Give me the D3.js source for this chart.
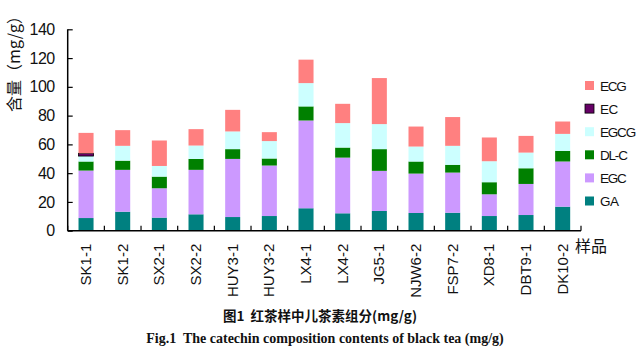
<!DOCTYPE html>
<html><head><meta charset="utf-8">
<script src="https://cdn.jsdelivr.net/npm/d3@7"></script>
<style>html,body{margin:0;padding:0;background:#fff;}svg{display:block;}text{white-space:pre;}</style>
</head><body>
<svg id="c" width="640" height="349"></svg>
<script>
const categories = ["SK1-1","SK1-2","SX2-1","SX2-2","HUY3-1","HUY3-2","LX4-1","LX4-2","JG5-1","NJW6-2","FSP7-2","XD8-1","DBT9-1","DK10-2"];
const GA   = [8.8,13.2,9.1,11.4,9.5,10.2,15.6,12.1,13.7,12.3,12.5,10.2,10.9,16.7];
const EGC  = [33.0,29.1,20.4,30.9,40.4,35.1,61.0,38.7,27.9,27.4,27.9,15.1,21.6,31.4];
const DLC  = [6.3,6.4,8.1,7.6,6.8,4.9,9.8,7.0,15.1,8.4,5.4,8.4,10.9,7.4];
const EGCG = [3.8,10.3,7.4,9.3,12.3,12.1,16.2,17.0,17.4,10.4,13.2,14.6,10.9,11.8];
const EC   = [1.9,0,0,0,0,0,0,0,0,0,0,0,0,0];
const ECG  = [14.2,10.9,17.7,11.4,15.0,6.2,16.3,13.4,32.0,13.9,20.0,16.5,11.6,8.6];
const seriesNames = ["GA","EGC","DL-C","EGCG","EC","ECG"];
const legendOrder = ["ECG","EC","EGCG","DL-C","EGC","GA"];
const yTicks = [0,20,40,60,80,100,120,140];

const colors = {"GA":"#008080","EGC":"#cc99ff","DL-C":"#008000","EGCG":"#ccffff","EC":"#660066","ECG":"#ff8080"};
const seriesVals = {"GA":GA,"EGC":EGC,"DL-C":DLC,"EGCG":EGCG,"EC":EC,"ECG":ECG};
const legendWidths = {"ECG":27,"EC":17,"EGCG":34,"DL-C":32,"EGC":27,"GA":17};

const rows = categories.map((c,i)=>{const r={cat:c}; seriesNames.forEach(s=>r[s]=seriesVals[s][i]); return r;});
const stack = d3.stack().keys(seriesNames)(rows);

const svg = d3.select("#c");
const x0 = 67.7, x1 = 581, yb = 230.7, yt = 29.3;
const x = d3.scaleBand().domain(categories).range([x0,x1]).paddingInner(0.59).paddingOuter(0.295);
const y = d3.scaleLinear().domain([0,140]).range([yb,yt]);

// bars
stack.forEach(layer=>{
  svg.append("g").selectAll("rect").data(layer).join("rect")
    .attr("x", d=>x(d.data.cat))
    .attr("width", x.bandwidth())
    .attr("y", d=>y(d[1]))
    .attr("height", d=>Math.max(0, y(d[0])-y(d[1])))
    .attr("fill", colors[layer.key])
    .attr("stroke", layer.key==="EC" ? "#000" : "none")
    .attr("stroke-width", layer.key==="EC" ? 0.8 : 0)
    .attr("display", d=> (d[1]-d[0])>0 ? null : "none");
});

// y axis
const yAxis = d3.axisLeft(y).tickValues(yTicks).tickSize(-5).tickPadding(13).tickFormat(d3.format("d"));
const gy = svg.append("g").attr("transform",`translate(${x0},0)`).call(yAxis);
gy.select(".domain").attr("stroke","#000").attr("stroke-width",1.5).attr("d",`M0,${yt}V${yb}`);
gy.selectAll(".tick line").attr("stroke","#000").attr("stroke-width",1.2);
gy.selectAll("text").attr("font-family","Liberation Sans, Arial, sans-serif").attr("font-size",16).attr("fill","#111").attr("letter-spacing","-0.5");

// x axis
const gx = svg.append("g").attr("transform",`translate(0,${yb})`);
gx.append("line").attr("x1",x0).attr("x2",x1).attr("y1",0).attr("y2",0).attr("stroke","#000").attr("stroke-width",1.5);
const step = x.step();
const bounds = d3.range(categories.length+1).map(i=>x0+i*step);
gx.selectAll("line.tk").data(bounds).join("line").attr("class","tk")
  .attr("x1",d=>d).attr("x2",d=>d).attr("y1",0).attr("y2",-5).attr("stroke","#000").attr("stroke-width",1.2);
gx.selectAll("text.lab").data(categories).join("text").attr("class","lab")
  .attr("transform",d=>`translate(${x(d)+x.bandwidth()/2+5},13) rotate(-90)`)
  .attr("text-anchor","end")
  .attr("font-family","Liberation Sans, Arial, sans-serif").attr("font-size",15).attr("fill","#111")
  .text(d=>d);

svg.append("text").attr("x",575).attr("y",252).attr("font-family","Noto Sans CJK SC").attr("font-size",16).attr("fill","#111").text("样品");

// y title
svg.append("text").attr("transform","translate(20,60) rotate(-90)").attr("text-anchor","middle")
  .attr("font-family","Noto Sans CJK SC").attr("font-size",16).attr("fill","#111").text("含量（mg/g）");

// legend
const lg = svg.append("g");
legendOrder.forEach((s,i)=>{
  const cy = 85.5 + i*23.1;
  lg.append("rect").attr("x",585).attr("y",cy-4.5).attr("width",9).attr("height",9).attr("fill",colors[s])
    .attr("stroke", s==="EC" ? "#000":"none").attr("stroke-width", s==="EC"?0.8:0);
  lg.append("text").attr("x",600).attr("y",cy+5).attr("font-family","Liberation Sans, Arial, sans-serif").attr("font-size",13.5).attr("fill","#111")
    .attr("letter-spacing", s.length>=3 ? -1.2 : -0.5).text(s);
});

// captions
svg.append("text").attr("x",320).attr("y",321).attr("text-anchor","middle").attr("font-family","Noto Sans CJK SC").attr("font-weight","bold").attr("font-size",13.5).attr("fill","#111").text("图1  红茶样中儿茶素组分(mg/g)");
svg.append("text").attr("x",325).attr("y",343).attr("text-anchor","middle").attr("font-family","Liberation Serif, Times New Roman, serif").attr("font-weight","bold").attr("font-size",14).attr("fill","#111").text("Fig.1  The catechin composition contents of black tea (mg/g)");
</script>
</body></html>
